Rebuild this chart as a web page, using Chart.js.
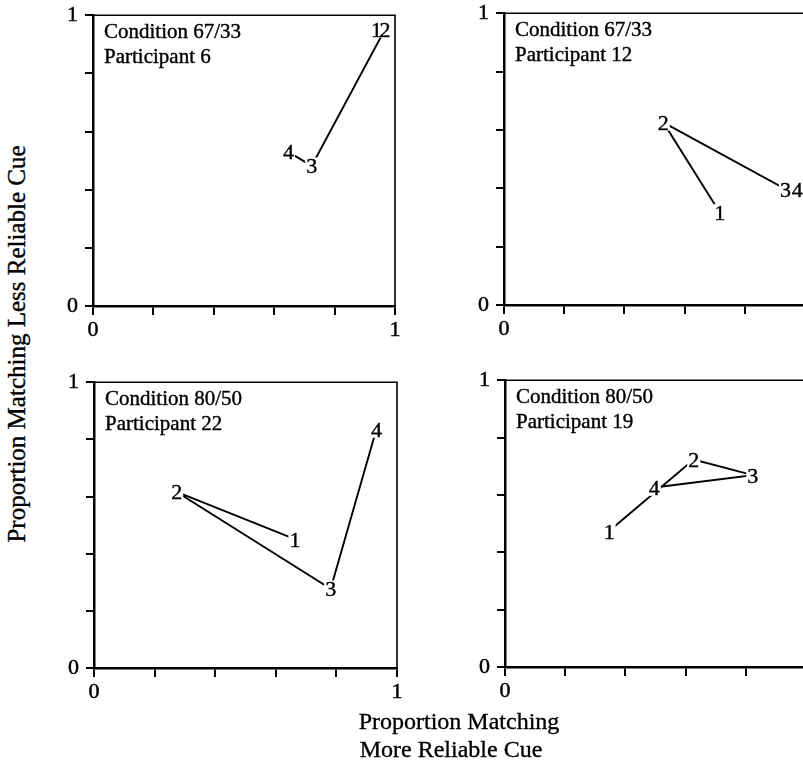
<!DOCTYPE html>
<html>
<head>
<meta charset="utf-8">
<script src="https://cdn.jsdelivr.net/npm/chart.js@4"></script>
<style>
  html, body { margin: 0; padding: 0; background: #fff; overflow: hidden; width: 803px; height: 770px; }
  canvas { position: absolute; }
  .t { position: absolute; font-family: "Liberation Serif", "Times New Roman", serif; color: #000; white-space: nowrap; -webkit-text-stroke: 0.35px #000; }
</style>
</head>
<body>
<canvas id="c1"></canvas>
<canvas id="c2"></canvas>
<canvas id="c3"></canvas>
<canvas id="c4"></canvas>
<div class="t" id="ytitle" style="font-size:25px; left:17px; top:344px; transform: translate(-50%,-50%) rotate(-90deg);">Proportion Matching Less Reliable Cue</div>
<div class="t" style="font-size:24px; left:459px; top:721px; transform: translate(-50%,-50%);">Proportion Matching</div>
<div class="t" style="font-size:24px; left:451px; top:749px; transform: translate(-50%,-50%);">More Reliable Cue</div>
<script>
// ---- data ----
const pointLabels = ['1', '2', '3', '4'];
const tickLabels = ['0', '1'];
const titlesP6 = ['Condition 67/33', 'Participant 6'];
const titlesP12 = ['Condition 67/33', 'Participant 12'];
const titlesP22 = ['Condition 80/50', 'Participant 22'];
const titlesP19 = ['Condition 80/50', 'Participant 19'];
const xP6 = [0.939, 0.967, 0.724, 0.647];
const yP6 = [0.952, 0.952, 0.482, 0.530];
const xP12 = [0.717, 0.529, 0.935, 0.974];
const yP12 = [0.317, 0.626, 0.397, 0.397];
const xP22 = [0.663, 0.273, 0.781, 0.932];
const yP22 = [0.451, 0.616, 0.277, 0.835];
const xP19 = [0.346, 0.627, 0.823, 0.496];
const yP19 = [0.474, 0.723, 0.669, 0.626];

const FONT = '"Liberation Serif", "Times New Roman", serif';

const labelPlugin = {
  id: 'numLabels',
  afterDatasetsDraw(chart) {
    const ctx = chart.ctx;
    const meta = chart.getDatasetMeta(0);
    const size = 22;
    ctx.save();
    ctx.font = size + 'px ' + FONT;
    ctx.textAlign = 'center';
    ctx.textBaseline = 'alphabetic';
    const labels = chart.data.datasets[0].pointLabels;
    meta.data.forEach((pt, i) => {
      const w = ctx.measureText(labels[i]).width;
      ctx.fillStyle = '#fff';
      ctx.fillRect(pt.x - w / 2 - 1, pt.y - 0.38 * size, w + 2, 0.76 * size);
    });
    ctx.fillStyle = '#000';
    ctx.strokeStyle = '#000';
    ctx.lineWidth = 0.4;
    meta.data.forEach((pt, i) => {
      ctx.fillText(labels[i], pt.x, pt.y + 0.34 * size);
      ctx.strokeText(labels[i], pt.x, pt.y + 0.34 * size);
    });
    ctx.restore();
  }
};

const framePlugin = {
  id: 'frame',
  afterDraw(chart) {
    const a = chart.chartArea, ctx = chart.ctx;
    ctx.save();
    ctx.strokeStyle = '#000';
    ctx.lineWidth = 1.6;
    ctx.beginPath();
    ctx.moveTo(a.left, a.top);
    ctx.lineTo(a.right, a.top);
    ctx.lineTo(a.right, a.bottom);
    ctx.stroke();
    // panel text
    const lines = chart.options.plugins.frame.lines;
    ctx.fillStyle = '#000';
    ctx.font = '21px ' + FONT;
    ctx.textAlign = 'left';
    ctx.textBaseline = 'middle';
    ctx.lineWidth = 0.4;
    [0, 1].forEach(k => {
      const yy = a.top + 17 + k * 25;
      ctx.fillText(lines[k], a.left + 11, yy);
      ctx.strokeText(lines[k], a.left + 11, yy);
    });
    ctx.restore();
  }
};

function tickCb(v) {
  if (Math.abs(v) < 1e-9) return tickLabels[0];
  if (Math.abs(v - 1) < 1e-9) return tickLabels[1];
  return '';
}
function tickCbZeroOnly(v) {
  if (Math.abs(v) < 1e-9) return tickLabels[0];
  return '';
}

function makePanel(id, area, xs, ys, lines, xCb) {
  const padT = 20, padR = 20, yW = 50, xH = 45;
  const cv = document.getElementById(id);
  const cw = area.w + yW + padR, ch = area.h + padT + xH;
  cv.width = cw; cv.height = ch;
  cv.style.width = cw + 'px'; cv.style.height = ch + 'px';
  cv.style.left = (area.l - yW) + 'px';
  cv.style.top = (area.t - padT) + 'px';
  const pts = xs.map((x, i) => ({ x: x, y: ys[i] }));
  const tickFont = { family: FONT, size: 22 };
  new Chart(cv, {
    type: 'scatter',
    data: { datasets: [{ data: pts, pointLabels: pointLabels, showLine: true, borderColor: '#000', borderWidth: 1.9, pointRadius: 0, pointHoverRadius: 0, tension: 0, fill: false }] },
    options: {
      responsive: false, animation: false, devicePixelRatio: 1,
      layout: { padding: { top: padT, right: padR, left: 0, bottom: 0 } },
      plugins: { legend: { display: false }, tooltip: { enabled: false }, frame: { lines: lines } },
      scales: {
        x: {
          type: 'linear', min: 0, max: 1,
          ticks: { stepSize: 0.2, autoSkip: false, maxRotation: 0, color: '#000', font: tickFont, padding: 2, textStrokeColor: '#000', textStrokeWidth: 0.5, callback: xCb },
          grid: { drawOnChartArea: false, drawTicks: true, tickLength: 9, color: '#000', lineWidth: 2 },
          border: { display: true, color: '#000', width: 2.5 },
          afterFit(s) { s.height = xH; }
        },
        y: {
          type: 'linear', min: 0, max: 1,
          ticks: { stepSize: 0.2, autoSkip: false, color: '#000', font: tickFont, padding: 7, textStrokeColor: '#000', textStrokeWidth: 0.5, callback: tickCb },
          grid: { drawOnChartArea: false, drawTicks: true, tickLength: 8, color: '#000', lineWidth: 2 },
          border: { display: true, color: '#000', width: 2.5 },
          afterFit(s) { s.width = yW; }
        }
      }
    },
    plugins: [labelPlugin, framePlugin]
  });
}

makePanel('c1', { l: 93, t: 15, w: 302, h: 291 }, xP6, yP6, titlesP6, tickCb);
makePanel('c2', { l: 504, t: 13, w: 301, h: 292 }, xP12, yP12, titlesP12, tickCbZeroOnly);
makePanel('c3', { l: 94, t: 382, w: 303, h: 286 }, xP22, yP22, titlesP22, tickCb);
makePanel('c4', { l: 505, t: 380, w: 301, h: 287 }, xP19, yP19, titlesP19, tickCbZeroOnly);
</script>
</body>
</html>
